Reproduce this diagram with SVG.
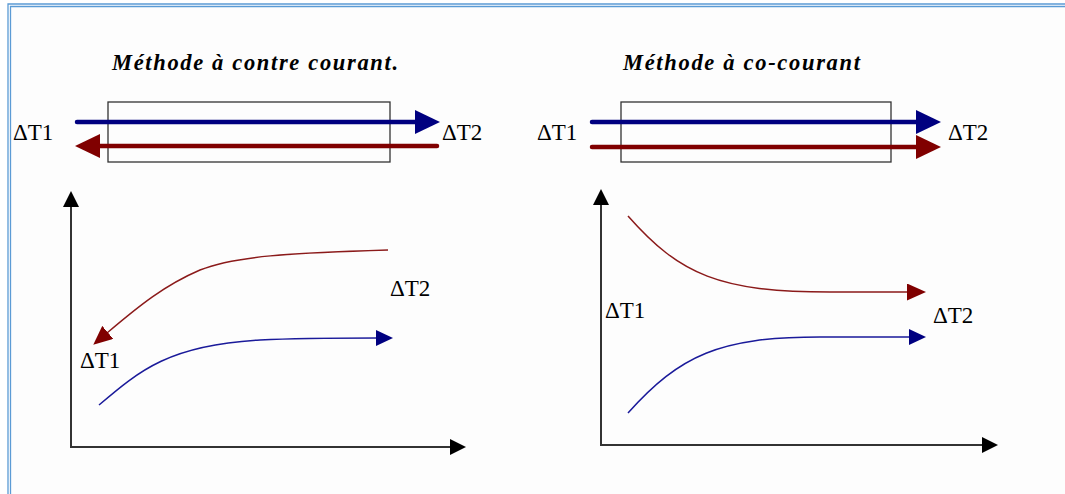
<svg xmlns="http://www.w3.org/2000/svg" width="1065" height="494" viewBox="0 0 1065 494">
<style>
.title{font-family:"Liberation Serif","Times New Roman",serif;font-weight:bold;font-style:italic;font-size:22.5px;fill:#000}
.lbl{font-family:"Liberation Serif","Times New Roman",serif;font-size:23px;fill:#000}
.thickB{stroke:#000080;stroke-width:4.5;fill:none;stroke-linecap:round}
.thickR{stroke:#800000;stroke-width:4.5;fill:none;stroke-linecap:round}
.thinB{stroke:#1a1a9a;stroke-width:1.5;fill:none}
.thinR{stroke:#8b1a1a;stroke-width:1.5;fill:none}
.axis{stroke:#333;stroke-width:2;fill:none}
.box{stroke:#333;stroke-width:1.3;fill:none}
.border{stroke:#5b9bd5;stroke-width:1.3;fill:none}
</style>
<defs>
<marker id="bigB" markerUnits="userSpaceOnUse" markerWidth="25" markerHeight="24" viewBox="0 0 25 24" refX="1" refY="12" orient="auto"><path d="M0,0 L25,12 L0,24 z" fill="#000080"/></marker>
<marker id="bigR" markerUnits="userSpaceOnUse" markerWidth="25" markerHeight="24" viewBox="0 0 25 24" refX="1" refY="12" orient="auto"><path d="M0,0 L25,12 L0,24 z" fill="#800000"/></marker>
<marker id="smB" markerUnits="userSpaceOnUse" markerWidth="17" markerHeight="16" viewBox="0 0 17 16" refX="1" refY="8" orient="auto"><path d="M0,0 L17,8 L0,16 z" fill="#000080"/></marker>
<marker id="smR" markerUnits="userSpaceOnUse" markerWidth="19" markerHeight="17" viewBox="0 0 19 17" refX="1" refY="8.5" orient="auto"><path d="M0,0 L19,8.5 L0,17 z" fill="#800000"/></marker>
<marker id="ax" markerUnits="userSpaceOnUse" markerWidth="16" markerHeight="16" viewBox="0 0 16 16" refX="1" refY="8" orient="auto"><path d="M0,0 L16,8 L0,16 z" fill="#000"/></marker>
</defs>
<rect x="0" y="0" width="1065" height="494" fill="#fff"/>
<rect x="11" y="7" width="1054" height="487" fill="#fdfdfd"/>
<g id="frame">
<path class="border" d="M8,494 V4 H1065"/>
<path class="border" d="M10.5,494 V6.5 H1065"/>
</g>

<g id="title-left"><text class="title" x="112" y="70" textLength="286" lengthAdjust="spacing">Méthode à contre courant.</text></g>
<g id="title-right"><text class="title" x="623" y="70" textLength="237" lengthAdjust="spacing">Méthode à co-courant</text></g>

<g id="exchanger-left"><rect class="box" x="108" y="102" width="282" height="60"/></g>
<g id="exchanger-right"><rect class="box" x="621" y="102" width="270" height="60"/></g>

<g id="labels">
<text class="lbl" x="13" y="140">ΔT1</text>
<text class="lbl" x="442" y="140">ΔT2</text>
<text class="lbl" x="537" y="140">ΔT1</text>
<text class="lbl" x="948" y="140">ΔT2</text>
<text class="lbl" x="390" y="296">ΔT2</text>
<text class="lbl" x="80" y="368">ΔT1</text>
<text class="lbl" x="605" y="318">ΔT1</text>
<text class="lbl" x="933" y="323">ΔT2</text>
</g>

<g id="connectors">
<line class="thickB" x1="77" y1="122" x2="416" y2="122" marker-end="url(#bigB)"/>
<line class="thickR" x1="437" y1="146" x2="99" y2="146" marker-end="url(#bigR)"/>
<line class="thickB" x1="592" y1="122" x2="917" y2="122" marker-end="url(#bigB)"/>
<line class="thickR" x1="592" y1="147" x2="917" y2="147" marker-end="url(#bigR)"/>

<line class="axis" x1="71" y1="447" x2="71" y2="206" marker-end="url(#ax)"/>
<line class="axis" x1="70" y1="447" x2="451" y2="447" marker-end="url(#ax)"/>
<line class="axis" x1="601" y1="445" x2="601" y2="204" marker-end="url(#ax)"/>
<line class="axis" x1="600" y1="445" x2="983" y2="445" marker-end="url(#ax)"/>

<path class="thinR" d="M388,250 C290,253 235,256 200,270 C165,285 140,305 107,333" marker-end="url(#smR)"/>
<path class="thinB" d="M99,405 C140,370 170,345 260,340 C300,338 340,338 377,338" marker-end="url(#smB)"/>
<path class="thinR" d="M628,216 C680,275 720,292 830,292 L908,292" marker-end="url(#smR)"/>
<path class="thinB" d="M628,413 C680,355 720,337 820,337 L910,337" marker-end="url(#smB)"/>
</g>
</svg>
